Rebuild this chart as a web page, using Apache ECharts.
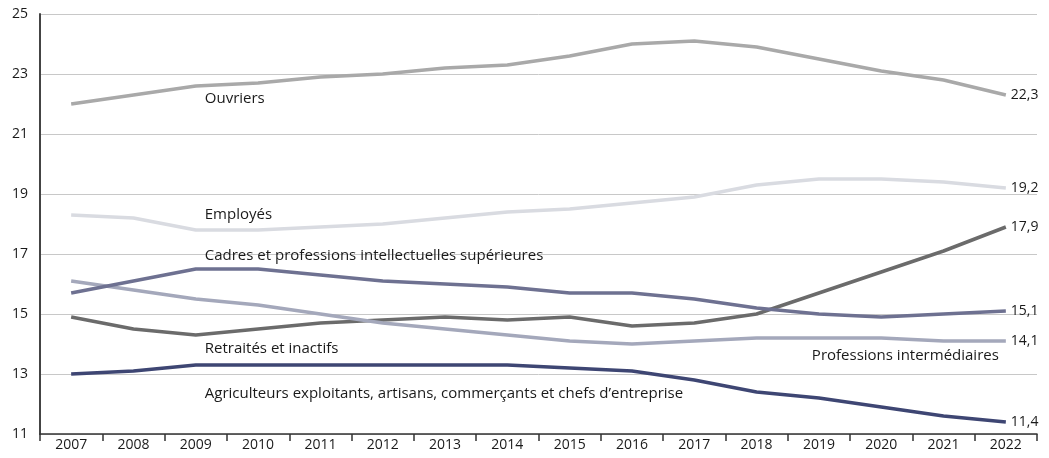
<!DOCTYPE html>
<html><head><meta charset="utf-8">
<script src="https://cdn.jsdelivr.net/npm/echarts@6/dist/echarts.min.js"></script>
<style>html,body{margin:0;padding:0;background:#fff}#c{width:1049px;height:458px}</style>
</head><body><div id="c"></div>
<script>
const years = ['2007','2008','2009','2010','2011','2012','2013','2014','2015','2016','2017','2018','2019','2020','2021','2022'];
const yTicks = [11,13,15,17,19,21,23,25];
const ouvriers =      [22.0,22.3,22.6,22.7,22.9,23.0,23.2,23.3,23.6,24.0,24.1,23.9,23.5,23.1,22.8,22.3];
const employes =      [18.3,18.2,17.8,17.8,17.9,18.0,18.2,18.4,18.5,18.7,18.9,19.3,19.5,19.5,19.4,19.2];
const cadres =        [15.7,16.1,16.5,16.5,16.3,16.1,16.0,15.9,15.7,15.7,15.5,15.2,15.0,14.9,15.0,15.1];
const intermediaires =[16.1,15.8,15.5,15.3,15.0,14.7,14.5,14.3,14.1,14.0,14.1,14.2,14.2,14.2,14.1,14.1];
const retraites =     [14.9,14.5,14.3,14.5,14.7,14.8,14.9,14.8,14.9,14.6,14.7,15.0,15.7,16.4,17.1,17.9];
const agriculteurs =  [13.0,13.1,13.3,13.3,13.3,13.3,13.3,13.3,13.2,13.1,12.8,12.4,12.2,11.9,11.6,11.4];
const names = ['Ouvriers','Employés','Cadres et professions intellectuelles supérieures','Professions intermédiaires','Retraités et inactifs','Agriculteurs exploitants, artisans, commerçants et chefs d’entreprise'];

const FONT = 'Open Sans';
const specs = [
  {data: ouvriers, color:'#a9a9a9', idx:2, lab:{position:'bottom', align:'left', offset:[9,0]}},
  {data: employes, color:'#d9dbe1', idx:2, lab:{position:'top', align:'left', offset:[9,-3]}},
  {data: cadres, color:'#6e7191', idx:2, lab:{position:'top', align:'left', offset:[9,-1]}},
  {data: intermediaires, color:'#a4a8bb', idx:15, lab:{position:'bottom', align:'right', offset:[-7,2]}},
  {data: retraites, color:'#6b6b6b', idx:2, lab:{position:'bottom', align:'left', offset:[9,1]}},
  {data: agriculteurs, color:'#3e4673', idx:2, lab:{position:'bottom', align:'left', offset:[9,16]}}
];
const series = specs.map((s,i)=>({
  type:'line', name:names[i], symbol:'circle', symbolSize:0, showSymbol:true, smooth:false,
  lineStyle:{color:s.color, width:3.5},
  itemStyle:{color:s.color},
  z: 10-i,
  data: s.data.map((v,k)=> k===s.idx ? {value:v, label:{show:true, formatter:names[i], color:'#1a1a1a', fontSize:15, fontFamily:FONT, ...s.lab}} : v),
  endLabel:{show:true, formatter:p=>String(p.value).replace('.',','), color:'#1a1a1a', fontSize:14, fontFamily:FONT, distance:5},
  emphasis:{disabled:true}
}));
const chart = echarts.init(document.getElementById('c'));
chart.setOption({
  animation:false,
  grid:{left:40,right:12,top:14,bottom:24,containLabel:false},
  xAxis:{type:'category', data:years, boundaryGap:true,
    axisLine:{lineStyle:{color:'#333',width:1.5}},
    axisTick:{show:true,length:7,lineStyle:{color:'#333',width:1.5}},
    axisLabel:{color:'#1a1a1a',fontSize:14,fontFamily:FONT,margin:4}},
  yAxis:{type:'value', min:11, max:25, interval:2,
    axisLine:{show:true,lineStyle:{color:'#444',width:2}},
    axisTick:{show:false},
    axisLabel:{color:'#1a1a1a',fontSize:14,fontFamily:FONT,margin:12,
      formatter:v=> yTicks.includes(v)?String(v):''},
    splitLine:{lineStyle:{color:'#c8c8c8',width:1}}},
  series
});
</script></body></html>
